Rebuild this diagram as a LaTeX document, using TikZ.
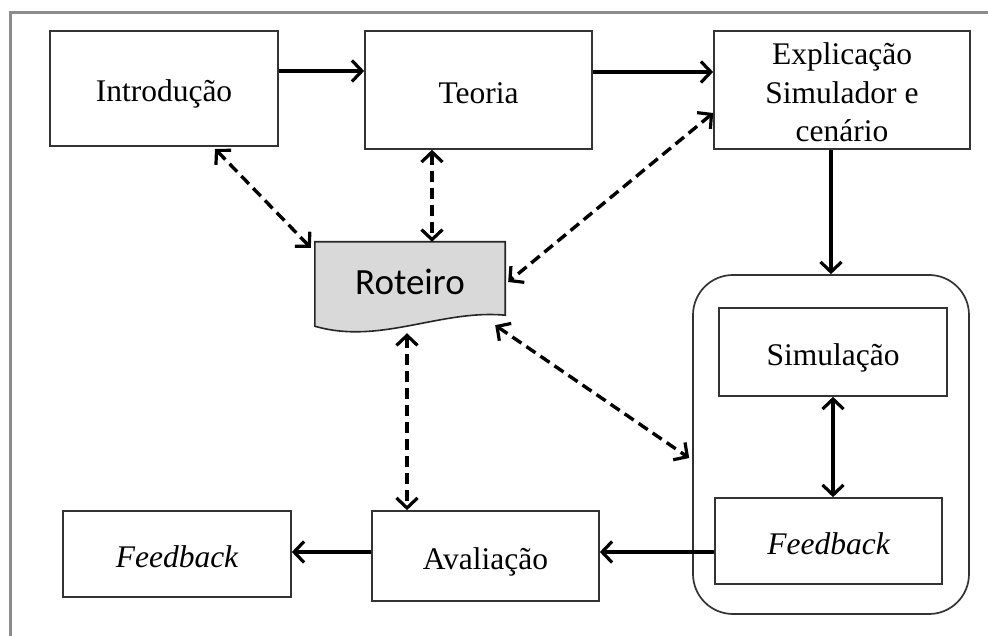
\documentclass[tikz,border=0pt]{standalone}
\usepackage{fontspec}
\setmainfont{Liberation Serif}
\newfontfamily\docfont{Carlito}
\usetikzlibrary{arrows.meta}
\begin{document}
\begin{tikzpicture}[x=1pt,y=1pt,
  frame/.style={draw=black!80, line width=1.7pt, inner sep=0pt},
  box/.style={frame, fill=white, rectangle, font=\fontsize{31.5}{38}\selectfont,
    text height=29pt, text depth=2pt},
  tip/.tip={Straight Barb[length=10pt,width=21pt,line width=3.2pt]},
  arr/.style={line width=3.4pt, -tip},
  biarr/.style={line width=3.4pt, tip-tip},
  dasharr/.style={biarr, dash pattern=on 11pt off 6pt}]
\useasboundingbox (0,0) rectangle (988,635);
% page frame (only top and left edges fall inside the picture)
\draw[line width=3pt, draw=black!45] (990,622) -- (10,622) -- (10,-2);

% process boxes
\node[box, minimum width=228pt, minimum height=115pt] (intro) at (164,546.5) {Introdução};
\node[box, minimum width=227pt, minimum height=118pt] (teoria) at (478.5,545) {Teoria};
\node[frame, fill=white, minimum width=256pt, minimum height=118pt] (expl) at (842,545) {};
\node[font=\fontsize{31.5}{38.5}\selectfont, align=center, inner sep=0pt, anchor=base]
  (expltext) at (842,493) {Explicação\\Simulador e\\cenário};
\node[frame, rounded corners=40pt, minimum width=276pt, minimum height=339pt] (group) at (831,190.5) {};
\node[box, minimum width=228pt, minimum height=88pt] (simul) at (833,283) {Simulação};
\node[box, minimum width=227pt, minimum height=86pt] (fbr) at (828.5,94) {\itshape Feedback};
\node[box, minimum width=227pt, minimum height=90pt] (aval) at (485.5,79) {Avaliação};
\node[box, minimum width=228pt, minimum height=86pt] (fbl) at (177,81) {\itshape Feedback};

% document shape
\node[minimum width=190pt, minimum height=86pt, inner sep=0pt] (rot) at (410,350) {};
\draw[draw=black!85, line width=1.6pt, fill=black!15]
  (rot.north west) -- (rot.north east) -- ([yshift=13pt]rot.south east)
  .. controls ([xshift=-65pt,yshift=19pt]rot.south east) and ([xshift=65pt,yshift=-17pt]rot.south west)
  .. ([yshift=2pt]rot.south west) -- cycle;
\node[font=\docfont\fontsize{37}{44}\selectfont] (rottext) at (410,353) {Roteiro};

% main flow
\coordinate (ya) at (0,564);
\coordinate (yb) at (0,563);
\coordinate (yc) at (0,83);
\draw[arr] (intro.east |- ya) -- (teoria.west |- ya);
\draw[arr] (teoria.east |- yb) -- (expl.west |- yb);
\draw[arr] (expl.south -| group.north) -- (group.north);
\draw[biarr] (simul.south) -- (simul.south |- fbr.north);
\draw[arr] (fbr.west |- yc) -- (aval.east |- yc);
\draw[arr] (aval.west |- yc) -- (fbl.east |- yc);

% links to the document
\draw[dasharr] ([xshift=51pt,yshift=-2pt]intro.south) -- ([xshift=-4pt,yshift=-6pt]rot.north west);
\draw[dasharr] ([xshift=-46.5pt]teoria.south) -- ([xshift=22pt]rot.north);
\draw[dasharr] ([yshift=-23pt]expl.west) -- ([xshift=3pt,yshift=3pt]rot.east);
\draw[dasharr] ([xshift=-10pt,yshift=3pt]rot.south east) -- ([xshift=-3pt,yshift=-13.5pt]group.west);
\draw[dasharr] ([xshift=-3pt,yshift=-5pt]rot.south) -- ([xshift=-78.5pt]aval.north);
\end{tikzpicture}
\end{document}
